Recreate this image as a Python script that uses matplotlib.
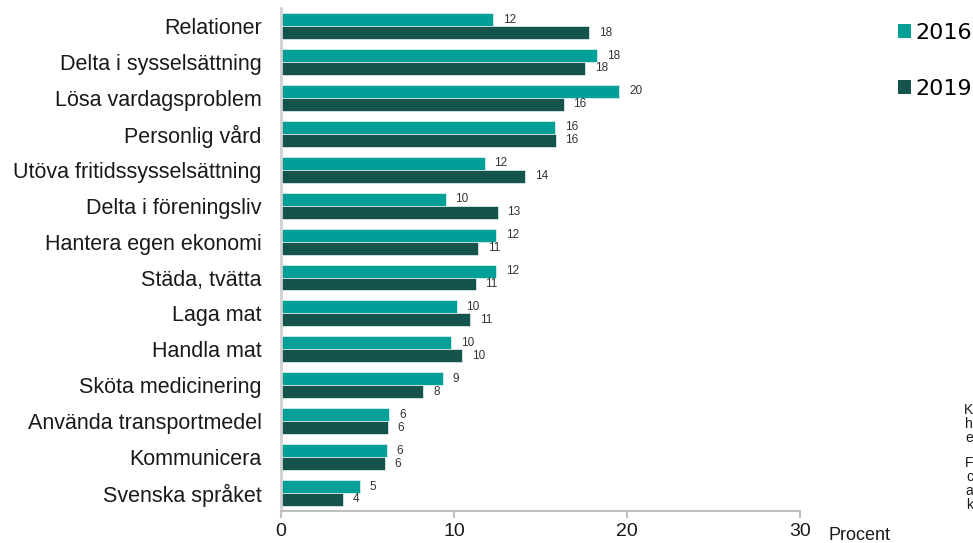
import numpy as np
import matplotlib
matplotlib.use("Agg")
import matplotlib.pyplot as plt
from matplotlib.patches import Patch

plt.rcParams["font.family"] = ["Liberation Sans", "DejaVu Sans"]

# Kategorier (uppifrån och ned) och andel i procent
kategorier = [
    "Relationer", "Delta i sysselsättning", "Lösa vardagsproblem", "Personlig vård",
    "Utöva fritidssysselsättning", "Delta i föreningsliv", "Hantera egen ekonomi",
    "Städa, tvätta", "Laga mat", "Handla mat", "Sköta medicinering",
    "Använda transportmedel", "Kommunicera", "Svenska språket",
]
varden_2016 = [12.25, 18.27, 19.55, 15.84, 11.77, 9.52, 12.43, 12.43, 10.15, 9.83, 9.35, 6.26, 6.11, 4.55]
varden_2019 = [17.8, 17.6, 16.34, 15.88, 14.12, 12.52, 11.41, 11.25, 10.95, 10.46, 8.23, 6.17, 6.01, 3.6]
serier = ["2016", "2019"]
x_ticks = [0, 10, 20, 30]

FARG_2016 = "#00A098"
FARG_2019 = "#14544C"
TEXT = "#1a1a1a"

fig = plt.figure(figsize=(9.73, 5.43), dpi=100)
ax = fig.add_axes([0.2888, 0.059, 0.5334, 0.926])

y = np.arange(len(kategorier))
h = 0.36
b1 = ax.barh(y - h / 2, varden_2016, height=h, color=FARG_2016, edgecolor="#e8f4f3", linewidth=0.5)
b2 = ax.barh(y + h / 2, varden_2019, height=h, color=FARG_2019, edgecolor="#e8f4f3", linewidth=0.5)

# Värdeetiketter till höger om staplarna
for bars, vals in [(b1, varden_2016), (b2, varden_2019)]:
    for bar, v in zip(bars, vals):
        ax.annotate(f"{round(v + 1e-9):d}", xy=(v, bar.get_y() + bar.get_height() / 2),
                    xytext=(7, 0), textcoords="offset points",
                    ha="left", va="center", fontsize=8.5, color="#333333")

ax.set_yticks(y)
ax.set_yticklabels(kategorier, fontsize=15.5, color=TEXT)
ax.set_ylim(len(kategorier) - 0.5, -0.5)
ax.set_xlim(0, 30)
ax.set_xticks(x_ticks)
ax.set_xticklabels([str(t) for t in x_ticks], fontsize=14, color=TEXT)
ax.tick_params(axis="y", length=0, pad=14)
ax.tick_params(axis="x", length=5, color="#bfbfbf", width=1.5, pad=4)

for s in ["top", "right"]:
    ax.spines[s].set_visible(False)
ax.spines["left"].set_color("#d0d0d0")
ax.spines["left"].set_linewidth(2)
ax.spines["bottom"].set_color("#bfbfbf")
ax.spines["bottom"].set_linewidth(1.5)

fig.text(829 / 973, 1 - 536 / 543, "Procent", fontsize=13, color=TEXT, va="center", ha="left")

handles = [Patch(facecolor=FARG_2016), Patch(facecolor=FARG_2019)]
fig.legend(handles, serier, loc="upper left", bbox_to_anchor=(878 / 973, 1 - 3 / 543),
           frameon=False, prop={"family": "DejaVu Sans", "size": 16},
           handlelength=0.6, handleheight=0.6, handletextpad=0.2, labelspacing=1.6)

# Avskuren fotnot i högerkanten
for ty, t in zip([410, 424, 438, 463, 477, 491, 505], ["K", "h", "e", "F", "c", "a", "k"]):
    fig.text(1.0, 1 - ty / 543, t, fontsize=10, color=TEXT, va="center", ha="right")

fig.savefig("out.png", dpi=100)
